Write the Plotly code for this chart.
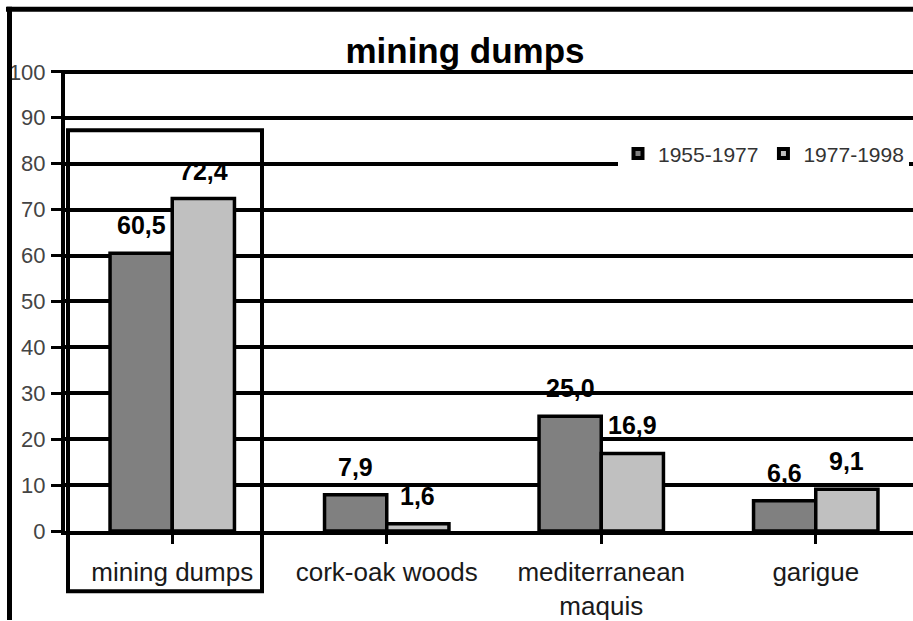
import plotly.graph_objects as go

categories = ["mining dumps", "cork-oak woods", "mediterranean<br>maquis", "garigue"]
series_names = ["1955-1977", "1977-1998"]
values_1955_1977 = [60.5, 7.9, 25.0, 6.6]
values_1977_1998 = [72.4, 1.6, 16.9, 9.1]
y_ticks = [0, 10, 20, 30, 40, 50, 60, 70, 80, 90, 100]

colors = ["#808080", "#c0c0c0"]
W, H = 913, 621
ML, MR, MT, MB = 65, 0, 70, 85
PW, PH = W - ML - MR, H - MT - MB
BARGAP = 0.42
FONT = "Liberation Sans, Arial"


def px_x(p):
    return (p - ML) / PW


def px_y(p):
    return (H - MB - p) / PH


fig = go.Figure()
for name, vals, col in zip(series_names, [values_1955_1977, values_1977_1998], colors):
    fig.add_trace(go.Bar(
        x=list(range(len(categories))), y=vals, name=name, showlegend=False,
        marker=dict(color=col, line=dict(color="black", width=3.5)),
    ))
    # legend entry (small black square as in the original)
    fig.add_trace(go.Scatter(
        x=[None], y=[None], mode="markers", name=name,
        marker=dict(symbol="square", size=9, color=col,
                    line=dict(color="black", width=4)),
    ))

# data labels
half = (1 - BARGAP) / 4
annotations = []
for i, vals in enumerate([values_1955_1977, values_1977_1998]):
    off = -half if i == 0 else half
    for j, v in enumerate(vals):
        annotations.append(dict(
            x=j + off, y=v, xref="x", yref="y",
            text=f"<b>{v:.1f}</b>".replace(".", ","),
            showarrow=False, yshift=28, yanchor="middle",
            font=dict(family=FONT, size=25, color="black"),
        ))

shapes = [
    # outer frame (top and left)
    dict(type="line", xref="paper", yref="paper", x0=px_x(6), x1=px_x(W + 5),
         y0=px_y(8.5), y1=px_y(8.5), line=dict(color="black", width=5)),
    dict(type="line", xref="paper", yref="paper", x0=px_x(9.5), x1=px_x(9.5),
         y0=px_y(6), y1=px_y(H + 5), line=dict(color="black", width=5)),
    # box around first category
    dict(type="rect", xref="paper", yref="paper", x0=px_x(68), x1=px_x(262),
         y0=px_y(597), y1=px_y(131), line=dict(color="black", width=4),
         fillcolor="rgba(0,0,0,0)"),
]

fig.update_layout(
    width=W, height=H,
    margin=dict(l=ML, r=MR, t=MT, b=MB, pad=0),
    paper_bgcolor="white", plot_bgcolor="white",
    barmode="group", bargap=BARGAP, bargroupgap=0,
    separators=",.",
    font=dict(family=FONT, color="#333"),
    title=dict(text="<b>mining dumps</b>", x=465 / W, xanchor="center",
               y=1 - 51 / H, yanchor="middle",
               font=dict(size=35, color="black", family=FONT)),
    xaxis=dict(
        range=[-0.5, -0.5 + PW / 214.5],
        tickmode="array", tickvals=list(range(len(categories))), ticktext=categories,
        showgrid=False, zeroline=False,
        showline=True, linecolor="black", linewidth=4,
        ticks="outside", ticklen=9, tickwidth=3, tickcolor="black",
        tickson="boundaries",
        tickfont=dict(size=26, color="#1a1a1a"),
        ticklabelstandoff=6,
    ),
    yaxis=dict(
        range=[0, 100.4], tickmode="array", tickvals=y_ticks,
        showgrid=True, gridcolor="black", gridwidth=4,
        zeroline=False,
        showline=True, linecolor="black", linewidth=4,
        ticks="outside", ticklen=10, tickwidth=3, tickcolor="black",
        tickfont=dict(size=22, color="#444"),
        ticklabelstandoff=1,
    ),
    legend=dict(
        orientation="h", x=px_x(618), y=px_y(134), xanchor="left", yanchor="top",
        bgcolor="white", font=dict(size=21, color="#333"),
        traceorder="normal", itemwidth=30,
    ),
    annotations=annotations,
    shapes=shapes,
)

fig.write_html("out.html", config={"displayModeBar": False},
               post_script="document.body.style.margin='0';")
